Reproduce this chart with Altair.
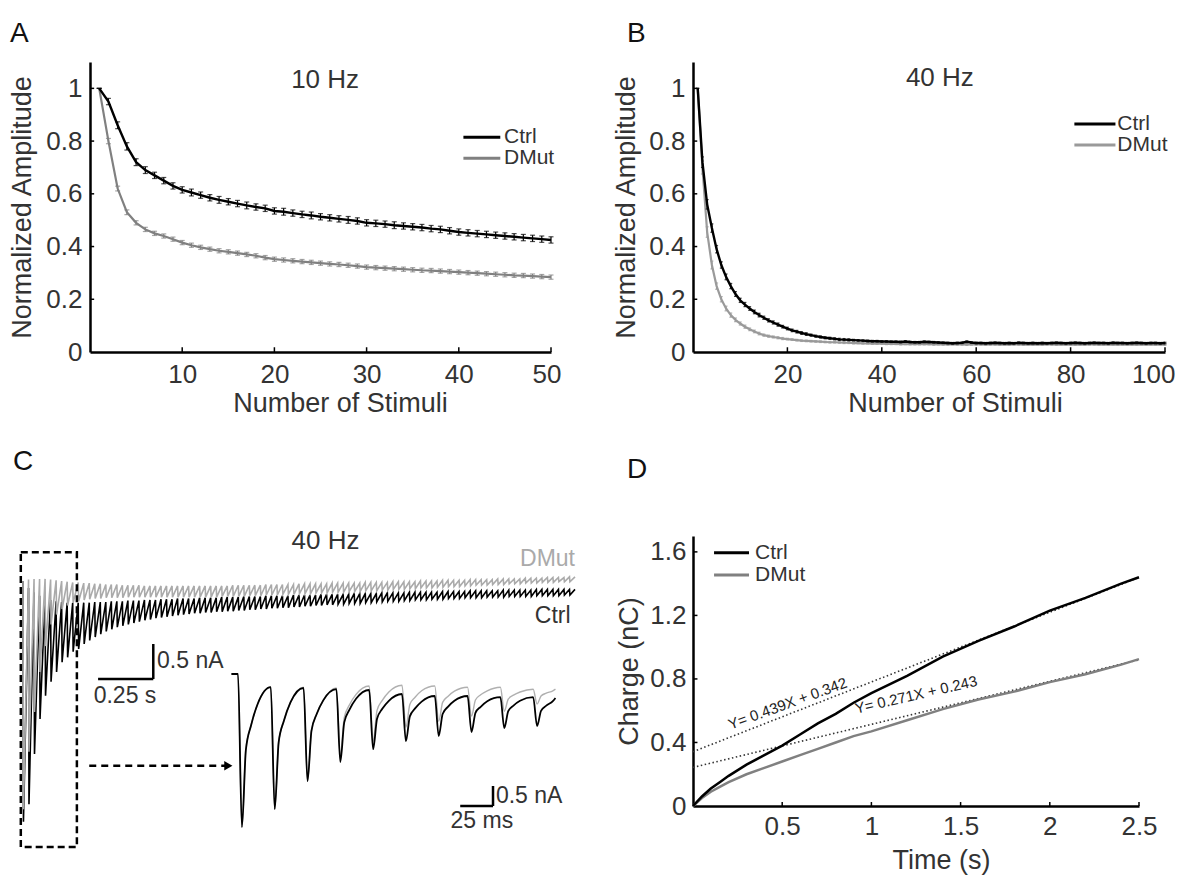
import altair as alt
import pandas as pd

FONT = "Liberation Sans"
BLACK = "#000000"
GRAY_A = "#808080"
GRAY_B = "#9a9a9a"
GRAY_C = "#aaaaaa"
TXT = "#333333"

# ---------------- Panel A (10 Hz) ----------------
a_stim = list(range(1, 51))
a_ctrl = [1.00, 0.95, 0.86, 0.78, 0.72, 0.69, 0.67, 0.65, 0.63, 0.615,
          0.605, 0.595, 0.585, 0.577, 0.570, 0.563, 0.556, 0.550, 0.545, 0.535,
          0.532, 0.527, 0.522, 0.518, 0.513, 0.509, 0.505, 0.501, 0.497, 0.490,
          0.488, 0.485, 0.481, 0.478, 0.475, 0.472, 0.468, 0.465, 0.460, 0.455,
          0.452, 0.449, 0.446, 0.443, 0.440, 0.437, 0.434, 0.431, 0.428, 0.425]
a_ctrl_sem = [0.000, 0.012, 0.013, 0.014, 0.013, 0.013, 0.012, 0.012, 0.012, 0.012,
              0.013, 0.012, 0.012, 0.013, 0.012, 0.012, 0.013, 0.012, 0.012, 0.012,
              0.013, 0.012, 0.012, 0.013, 0.012, 0.012, 0.012, 0.013, 0.012, 0.012,
              0.012, 0.012, 0.013, 0.012, 0.012, 0.012, 0.012, 0.012, 0.012, 0.012,
              0.012, 0.012, 0.012, 0.012, 0.012, 0.012, 0.012, 0.012, 0.012, 0.012]
a_mut = [1.00, 0.80, 0.62, 0.53, 0.49, 0.465, 0.450, 0.440, 0.428, 0.415,
         0.405, 0.397, 0.390, 0.384, 0.380, 0.375, 0.370, 0.365, 0.358, 0.352,
         0.349, 0.346, 0.343, 0.340, 0.337, 0.334, 0.332, 0.329, 0.326, 0.322,
         0.320, 0.318, 0.316, 0.314, 0.312, 0.310, 0.309, 0.307, 0.305, 0.303,
         0.301, 0.299, 0.297, 0.295, 0.293, 0.291, 0.290, 0.288, 0.286, 0.284]
a_mut_sem = [0.000, 0.010, 0.009, 0.009, 0.008, 0.008, 0.008, 0.008, 0.008, 0.008,
             0.008, 0.008, 0.008, 0.008, 0.008, 0.008, 0.008, 0.008, 0.008, 0.008,
             0.008, 0.008, 0.008, 0.008, 0.008, 0.008, 0.008, 0.008, 0.008, 0.008,
             0.008, 0.008, 0.008, 0.008, 0.008, 0.008, 0.008, 0.008, 0.008, 0.008,
             0.008, 0.008, 0.008, 0.008, 0.008, 0.008, 0.008, 0.008, 0.008, 0.008]

# ---------------- Panel B (40 Hz) ----------------
b_stim = list(range(1, 101))
b_ctrl = [1.00, 0.72, 0.56, 0.47, 0.39, 0.33, 0.285, 0.25, 0.22, 0.196,
          0.180, 0.165, 0.152, 0.140, 0.130, 0.120, 0.112, 0.104, 0.096, 0.089,
          0.082, 0.077, 0.072, 0.068, 0.064, 0.060, 0.057, 0.054, 0.052, 0.050,
          0.048, 0.047, 0.046, 0.045, 0.044, 0.043, 0.042, 0.041, 0.041, 0.040,
          0.040, 0.039, 0.039, 0.038, 0.040, 0.038, 0.037, 0.037, 0.039, 0.038,
          0.037, 0.036, 0.035, 0.034, 0.033, 0.034, 0.035, 0.039, 0.036, 0.034,
          0.034, 0.033, 0.034, 0.035, 0.034, 0.033, 0.034, 0.033, 0.035, 0.034,
          0.033, 0.034, 0.033, 0.034, 0.033, 0.034, 0.035, 0.034, 0.033, 0.034,
          0.035, 0.034, 0.033, 0.034, 0.035, 0.034, 0.034, 0.033, 0.035, 0.034,
          0.034, 0.033, 0.034, 0.035, 0.034, 0.033, 0.034, 0.034, 0.033, 0.034]
b_ctrl_sem = [0.000, 0.020, 0.018, 0.016, 0.014, 0.012, 0.011, 0.010, 0.009, 0.008,
              0.008, 0.007, 0.007, 0.007, 0.006, 0.006, 0.006, 0.006, 0.005, 0.005,
              0.005, 0.005, 0.005, 0.005, 0.004, 0.004, 0.004, 0.004, 0.004, 0.004,
              0.004, 0.004, 0.004, 0.003, 0.003, 0.003, 0.003, 0.003, 0.003, 0.003,
              0.003, 0.003, 0.003, 0.003, 0.003, 0.003, 0.003, 0.003, 0.003, 0.003,
              0.003, 0.003, 0.003, 0.003, 0.003, 0.003, 0.003, 0.003, 0.003, 0.003,
              0.003, 0.003, 0.003, 0.003, 0.003, 0.003, 0.003, 0.003, 0.003, 0.003,
              0.003, 0.003, 0.003, 0.003, 0.003, 0.003, 0.003, 0.003, 0.003, 0.003,
              0.003, 0.003, 0.003, 0.003, 0.003, 0.003, 0.003, 0.003, 0.003, 0.003,
              0.003, 0.003, 0.003, 0.003, 0.003, 0.003, 0.003, 0.003, 0.003, 0.003]
b_mut = [1.00, 0.70, 0.455, 0.33, 0.25, 0.20, 0.165, 0.140, 0.122, 0.108,
         0.096, 0.086, 0.078, 0.070, 0.064, 0.060, 0.057, 0.054, 0.051, 0.049,
         0.047, 0.045, 0.043, 0.042, 0.041, 0.040, 0.039, 0.038, 0.037, 0.037,
         0.036, 0.035, 0.035, 0.034, 0.034, 0.033, 0.033, 0.032, 0.032, 0.032,
         0.031, 0.031, 0.031, 0.030, 0.031, 0.030, 0.030, 0.030, 0.030, 0.030,
         0.029, 0.030, 0.029, 0.029, 0.030, 0.029, 0.029, 0.028, 0.029, 0.029,
         0.029, 0.028, 0.029, 0.029, 0.028, 0.029, 0.028, 0.029, 0.029, 0.028,
         0.029, 0.028, 0.029, 0.028, 0.029, 0.029, 0.028, 0.029, 0.028, 0.029,
         0.028, 0.029, 0.028, 0.029, 0.029, 0.028, 0.029, 0.028, 0.029, 0.028,
         0.029, 0.028, 0.029, 0.028, 0.029, 0.028, 0.029, 0.028, 0.029, 0.028]
b_mut_sem = [0.000, 0.025, 0.020, 0.015, 0.012, 0.010, 0.009, 0.008, 0.007, 0.006,
             0.006, 0.005, 0.005, 0.005, 0.004, 0.004, 0.004, 0.004, 0.004, 0.003,
             0.003, 0.003, 0.003, 0.003, 0.003, 0.003, 0.003, 0.003, 0.003, 0.003,
             0.003, 0.003, 0.003, 0.003, 0.003, 0.003, 0.003, 0.003, 0.003, 0.003,
             0.003, 0.003, 0.003, 0.003, 0.003, 0.003, 0.003, 0.003, 0.003, 0.003,
             0.003, 0.003, 0.003, 0.003, 0.003, 0.003, 0.003, 0.003, 0.003, 0.003,
             0.003, 0.003, 0.003, 0.003, 0.003, 0.003, 0.003, 0.003, 0.003, 0.003,
             0.003, 0.003, 0.003, 0.003, 0.003, 0.003, 0.003, 0.003, 0.003, 0.003,
             0.003, 0.003, 0.003, 0.003, 0.003, 0.003, 0.003, 0.003, 0.003, 0.003,
             0.003, 0.003, 0.003, 0.003, 0.003, 0.003, 0.003, 0.003, 0.003, 0.003]

# ---------------- Panel C (40 Hz traces, nA) ----------------
c_stim_times = [round(0.025 * i, 3) for i in range(100)]   # 40 Hz protocol, s
c_ctrl_base = [0.00, -0.10, -0.16, -0.21, -0.25, -0.27, -0.29, -0.30, -0.31, -0.31,
               -0.31, -0.31, -0.31, -0.30, -0.30, -0.30, -0.29, -0.29, -0.29, -0.28,
               -0.28, -0.28, -0.27, -0.27, -0.27, -0.26, -0.26, -0.26, -0.25, -0.25,
               -0.25, -0.25, -0.24, -0.24, -0.24, -0.24, -0.23, -0.23, -0.23, -0.23,
               -0.22, -0.22, -0.22, -0.22, -0.21, -0.21, -0.21, -0.21, -0.21, -0.20,
               -0.20, -0.20, -0.20, -0.20, -0.19, -0.19, -0.19, -0.19, -0.19, -0.19,
               -0.18, -0.18, -0.18, -0.18, -0.18, -0.17, -0.17, -0.17, -0.17, -0.17,
               -0.16, -0.16, -0.16, -0.16, -0.16, -0.16, -0.15, -0.15, -0.15, -0.15,
               -0.15, -0.14, -0.14, -0.14, -0.14, -0.14, -0.14, -0.13, -0.13, -0.13,
               -0.13, -0.13, -0.13, -0.12, -0.12, -0.12, -0.12, -0.12, -0.12, -0.12]
c_ctrl_peak = [-3.44, -3.19, -2.47, -1.97, -1.64, -1.44, -1.30, -1.16, -1.09, -1.01,
               -0.97, -0.90, -0.85, -0.80, -0.76, -0.72, -0.69, -0.66, -0.64, -0.62,
               -0.60, -0.58, -0.56, -0.55, -0.53, -0.52, -0.51, -0.50, -0.49, -0.48,
               -0.47, -0.46, -0.46, -0.45, -0.45, -0.44, -0.44, -0.43, -0.43, -0.42,
               -0.42, -0.41, -0.41, -0.40, -0.40, -0.39, -0.39, -0.38, -0.38, -0.37,
               -0.37, -0.36, -0.36, -0.35, -0.35, -0.34, -0.34, -0.33, -0.33, -0.32,
               -0.32, -0.32, -0.31, -0.31, -0.30, -0.30, -0.29, -0.29, -0.29, -0.28,
               -0.28, -0.27, -0.27, -0.27, -0.26, -0.26, -0.26, -0.25, -0.25, -0.25,
               -0.24, -0.24, -0.24, -0.24, -0.23, -0.23, -0.23, -0.23, -0.22, -0.22,
               -0.22, -0.22, -0.22, -0.21, -0.21, -0.21, -0.21, -0.21, -0.20, -0.20]
c_mut_base = [0.00, 0.02, 0.03, 0.03, 0.03, 0.02, 0.01, 0.00, -0.01, -0.02,
              -0.02, -0.03, -0.03, -0.04, -0.04, -0.05, -0.05, -0.05, -0.06, -0.06,
              -0.06, -0.06, -0.07, -0.07, -0.07, -0.07, -0.07, -0.07, -0.07, -0.07,
              -0.07, -0.07, -0.07, -0.07, -0.07, -0.07, -0.07, -0.07, -0.06, -0.06,
              -0.06, -0.06, -0.06, -0.06, -0.05, -0.05, -0.05, -0.05, -0.05, -0.05,
              -0.04, -0.04, -0.04, -0.04, -0.04, -0.04, -0.03, -0.03, -0.03, -0.03,
              -0.03, -0.03, -0.02, -0.02, -0.02, -0.02, -0.02, -0.01, -0.01, -0.01,
              -0.01, -0.01, 0.00, 0.00, 0.00, 0.00, 0.01, 0.01, 0.01, 0.01,
              0.01, 0.02, 0.02, 0.02, 0.02, 0.02, 0.03, 0.03, 0.03, 0.03,
              0.03, 0.04, 0.04, 0.04, 0.04, 0.05, 0.05, 0.05, 0.05, 0.06]
c_mut_peak = [-3.26, -2.44, -1.87, -1.30, -0.93, -0.62, -0.48, -0.40, -0.35, -0.31,
              -0.29, -0.27, -0.26, -0.25, -0.25, -0.24, -0.24, -0.24, -0.24, -0.23,
              -0.23, -0.23, -0.23, -0.23, -0.23, -0.23, -0.23, -0.23, -0.23, -0.23,
              -0.23, -0.23, -0.23, -0.23, -0.23, -0.23, -0.22, -0.22, -0.22, -0.22,
              -0.22, -0.21, -0.21, -0.21, -0.20, -0.20, -0.20, -0.19, -0.19, -0.19,
              -0.18, -0.18, -0.18, -0.17, -0.17, -0.17, -0.16, -0.16, -0.16, -0.15,
              -0.15, -0.15, -0.14, -0.14, -0.14, -0.13, -0.13, -0.12, -0.12, -0.12,
              -0.11, -0.11, -0.10, -0.10, -0.10, -0.09, -0.09, -0.08, -0.08, -0.08,
              -0.07, -0.07, -0.06, -0.06, -0.06, -0.05, -0.05, -0.05, -0.04, -0.04,
              -0.04, -0.03, -0.03, -0.03, -0.02, -0.02, -0.02, -0.01, -0.01, -0.01]
c_trace_end = 2.5

# inset: first 10 responses (ms, nA); samples at onset, +3, +6, +10, +15 ms
inset_onsets = [0, 25, 50, 75, 100, 125, 150, 175, 200, 225]
inset_end = 242
inset_ctrl_trough = [-3.83, -3.38, -2.68, -2.20, -1.88, -1.68, -1.55, -1.45, -1.35, -1.30]
inset_ctrl_k6 = [-1.90, -1.71, -1.42, -1.21, -1.12, -1.06, -1.00, -0.97, -0.93, -0.92]
inset_ctrl_k10 = [-1.28, -1.17, -1.00, -0.89, -0.87, -0.86, -0.82, -0.82, -0.79, -0.79]
inset_ctrl_k15 = [-0.75, -0.71, -0.66, -0.62, -0.67, -0.69, -0.67, -0.68, -0.67, -0.68]
inset_ctrl_top = [-0.33, -0.35, -0.38, -0.40, -0.50, -0.55, -0.55, -0.58, -0.58, -0.60]
inset_mut_trough = [-3.83, -3.38, -2.68, -2.05, -1.68, -1.33, -1.18, -1.05, -0.93, -0.75]
inset_mut_k6 = [-1.90, -1.71, -1.42, -1.09, -0.91, -0.76, -0.71, -0.65, -0.63, -0.55]
inset_mut_k10 = [-1.28, -1.17, -1.00, -0.77, -0.66, -0.58, -0.56, -0.52, -0.53, -0.48]
inset_mut_k15 = [-0.75, -0.71, -0.66, -0.51, -0.45, -0.42, -0.43, -0.42, -0.45, -0.42]
inset_mut_top = [-0.33, -0.33, -0.35, -0.30, -0.28, -0.30, -0.33, -0.33, -0.38, -0.38]

# ---------------- Panel D (charge, nC) ----------------
d_time = [0, 0.05, 0.1, 0.15, 0.2, 0.3, 0.4, 0.5, 0.6, 0.7, 0.8, 0.9, 1.0,
          1.2, 1.4, 1.6, 1.8, 2.0, 2.2, 2.4, 2.5]
d_ctrl = [0, 0.06, 0.11, 0.15, 0.19, 0.26, 0.32, 0.38, 0.45, 0.52, 0.58, 0.65, 0.71,
          0.82, 0.94, 1.04, 1.13, 1.23, 1.31, 1.40, 1.44]
d_mut = [0, 0.05, 0.09, 0.12, 0.15, 0.20, 0.24, 0.28, 0.32, 0.36, 0.40, 0.44, 0.47,
         0.54, 0.61, 0.67, 0.72, 0.78, 0.83, 0.89, 0.925]
d_fit_ctrl = (0.439, 0.342)
d_fit_mut = (0.271, 0.243)


def panel_title(letter, offset, dx):
    return alt.TitleParams(letter, anchor="start", frame="group", fontSize=28,
                           fontWeight="normal", font=FONT, color="#111111",
                           offset=offset, dx=dx)


def amp_panel(stim, ctrl, ctrl_sem, mut, mut_sem, xdom, xticks, yticks, w, h,
              mut_color, freq, freq_xy, leg_x, leg_y, letter, t_off, t_dx,
              xtitle_x, ytitle_pad, cap):
    xs = alt.Scale(domain=xdom, nice=False, zero=False)
    ys = alt.Scale(domain=[0, 1.1], nice=False, zero=False)
    xax = alt.Axis(values=xticks, title="Number of Stimuli", titleX=xtitle_x,
                   labelPadding=9, titlePadding=3, labelFlush=True, labelFlushOffset=10)
    yax = alt.Axis(values=yticks, title="Normalized Amplitude", format="~g",
                   labelPadding=8, titlePadding=ytitle_pad, labelFlush=False)

    def X(f):
        return alt.X(f, type="quantitative", scale=xs, axis=xax)

    def Y(f):
        return alt.Y(f, type="quantitative", scale=ys, axis=yax)

    layers = []
    for vals, sems, color, width in [(mut, mut_sem, mut_color, 2.2),
                                     (ctrl, ctrl_sem, BLACK, 2.4)]:
        df = pd.DataFrame({"stim": stim, "v": vals,
                           "lo": [v - s for v, s in zip(vals, sems)],
                           "hi": [v + s for v, s in zip(vals, sems)]})
        base = alt.Chart(df)
        layers.append(base.mark_rule(color=color, strokeWidth=1.2)
                      .encode(x=X("stim"), y=Y("lo"), y2="hi"))
        layers.append(base.mark_tick(color=color, orient="horizontal", size=cap,
                                     thickness=1.2).encode(x=X("stim"), y=Y("lo")))
        layers.append(base.mark_tick(color=color, orient="horizontal", size=cap,
                                     thickness=1.2).encode(x=X("stim"), y=Y("hi")))
        layers.append(base.mark_line(color=color, strokeWidth=width)
                      .encode(x=X("stim"), y=Y("v")))
    # inward ticks
    xt = pd.DataFrame({"x": xticks, "y0": [0] * len(xticks), "y1": [0.018] * len(xticks)})
    layers.append(alt.Chart(xt).mark_rule(color=BLACK, strokeWidth=1.5)
                  .encode(x=X("x"), y=Y("y0"), y2="y1"))
    yt_vals = [v for v in yticks if v > 0]
    ytd = pd.DataFrame({"y": yt_vals, "x0": [xdom[0]] * len(yt_vals),
                        "x1": [xdom[0] + (xdom[1] - xdom[0]) * 0.009] * len(yt_vals)})
    layers.append(alt.Chart(ytd).mark_rule(color=BLACK, strokeWidth=1.5)
                  .encode(x=X("x0"), x2="x1", y=Y("y")))
    # frequency label
    fd = pd.DataFrame({"x": [freq_xy[0]], "y": [freq_xy[1]], "t": [freq]})
    layers.append(alt.Chart(fd).mark_text(fontSize=26, font=FONT, color=TXT)
                  .encode(x=X("x"), y=Y("y"), text="t"))
    # legend
    ld = pd.DataFrame({"x0": [leg_x[0]] * 2, "x1": [leg_x[1]] * 2, "y": leg_y,
                       "tx": [leg_x[2]] * 2, "lab": ["Ctrl", "DMut"],
                       "c": [BLACK, mut_color]})
    layers.append(alt.Chart(ld).mark_rule(strokeWidth=3)
                  .encode(x=X("x0"), x2="x1", y=Y("y"),
                          color=alt.Color("c:N", scale=None)))
    layers.append(alt.Chart(ld).mark_text(fontSize=21, font=FONT, color=TXT,
                                          align="left", baseline="middle")
                  .encode(x=X("tx"), y=Y("y"), text="lab"))
    return alt.layer(*layers).properties(width=w, height=h,
                                         title=panel_title(letter, t_off, t_dx))


panel_a = amp_panel(a_stim, a_ctrl, a_ctrl_sem, a_mut, a_mut_sem, [0, 50],
                    [10, 20, 30, 40, 50], [0, 0.2, 0.4, 0.6, 0.8, 1.0], 461, 290,
                    GRAY_A, "10 Hz", (25.5, 1.03), (40.5, 44.5, 44.9), [0.815, 0.735],
                    "A", 14, -80, 250, 9, 5)
panel_b = amp_panel(b_stim, b_ctrl, b_ctrl_sem, b_mut, b_mut_sem, [0, 100],
                    [20, 40, 60, 80, 100], [0, 0.2, 0.4, 0.6, 0.8, 1.0], 472, 290,
                    GRAY_B, "40 Hz", (52.3, 1.04), (80.8, 89.5, 89.9), [0.865, 0.785],
                    "B", 14, -66, 262, 8, 3)

# ---------------- Panel C build ----------------
MAIN_T = [0.3034, 2.3913]
MAIN_I = [-3.214, 0.643]
INS_T = [-112.8, 238.6]
INS_I = [-3.30, 3.45]


def trace_df(base, peak):
    rows = []
    k = 0
    for t, b, p in zip(c_stim_times, base, peak):
        rows.append({"o": k, "t": t, "i": b})
        rows.append({"o": k + 1, "t": t + 0.002, "i": p})
        k += 2
    rows.append({"o": k, "t": c_trace_end, "i": base[-1]})
    return pd.DataFrame(rows)


def inset_df(trough, k6, k10, k15, top):
    rows = [{"o": 0, "t": -5, "i": 0.0}]
    prev = 0.0
    k = 1
    for j, t0 in enumerate(inset_onsets):
        for dt, v in [(0, prev), (3, trough[j]), (6, k6[j]), (10, k10[j]), (15, k15[j])]:
            rows.append({"o": k, "t": t0 + dt, "i": v})
            k += 1
        prev = top[j]
    rows.append({"o": k, "t": inset_end, "i": top[-1]})
    return pd.DataFrame(rows)


def MX(f):
    return alt.X(f, type="quantitative", scale=alt.Scale(domain=MAIN_T, nice=False, zero=False), axis=None)


def MY(f):
    return alt.Y(f, type="quantitative", scale=alt.Scale(domain=MAIN_I, nice=False, zero=False), axis=None)


def IX(f):
    return alt.X(f, type="quantitative", scale=alt.Scale(domain=INS_T, nice=False, zero=False), axis=None)


def IY(f):
    return alt.Y(f, type="quantitative", scale=alt.Scale(domain=INS_I, nice=False, zero=False), axis=None)


c_layers = []
c_layers.append(alt.Chart(trace_df(c_ctrl_base, c_ctrl_peak))
                .mark_line(color=BLACK, strokeWidth=1.6)
                .encode(x=MX("t"), y=MY("i"), order="o"))
c_layers.append(alt.Chart(trace_df(c_mut_base, c_mut_peak))
                .mark_line(color=GRAY_C, strokeWidth=1.6)
                .encode(x=MX("t"), y=MY("i"), order="o"))
# dashed selection box
box = pd.DataFrame({"t0": [-0.01], "t1": [0.244], "i0": [0.41], "i1": [-3.80]})
c_layers.append(alt.Chart(box).mark_rect(fill=None, fillOpacity=0, stroke=BLACK,
                                         strokeWidth=2.5, strokeDash=[7, 4])
                .encode(x=MX("t0"), x2="t1", y=MY("i0"), y2="i1"))
# arrow
arr = pd.DataFrame({"t0": [0.30], "t1": [0.93], "i": [-2.64]})
c_layers.append(alt.Chart(arr).mark_rule(color=BLACK, strokeWidth=2.5, strokeDash=[7, 5])
                .encode(x=MX("t0"), x2="t1", y=MY("i")))
c_layers.append(alt.Chart(arr).mark_point(shape="triangle-right", filled=True, size=90,
                                          color=BLACK, opacity=1)
                .encode(x=MX("t1"), y=MY("i")))
# main scale bar 0.25 s / 0.5 nA
sb = pd.DataFrame({"t0": [0.34], "t1": [0.59], "i0": [-1.40], "i1": [-0.90]})
c_layers.append(alt.Chart(sb).mark_rule(color=BLACK, strokeWidth=2.5)
                .encode(x=MX("t0"), x2="t1", y=MY("i0")))
c_layers.append(alt.Chart(sb).mark_rule(color=BLACK, strokeWidth=2.5)
                .encode(x=MX("t1"), y=MY("i0"), y2="i1"))
ctext = pd.DataFrame({
    "t": [1.37, 2.5, 2.48, 0.607, 0.32],
    "i": [0.57, 0.31, -0.50, -1.14, -1.64],
    "lab": ["40 Hz", "DMut", "Ctrl", "0.5 nA", "0.25 s"],
    "c": [TXT, GRAY_C, TXT, TXT, TXT],
    "al": ["center", "right", "right", "left", "left"],
    "fs": [26, 23, 23, 23, 23],
})
for _, r in ctext.iterrows():
    c_layers.append(alt.Chart(pd.DataFrame([r])).mark_text(
        font=FONT, fontSize=int(r["fs"]), color=r["c"], align=r["al"], baseline="middle")
        .encode(x=MX("t"), y=MY("i"), text="lab"))
# inset traces
c_layers.append(alt.Chart(inset_df(inset_mut_trough, inset_mut_k6, inset_mut_k10,
                                   inset_mut_k15, inset_mut_top))
                .mark_line(color="#b0b0b0", strokeWidth=1.4, interpolate="monotone")
                .encode(x=IX("t"), y=IY("i"), order="o"))
c_layers.append(alt.Chart(inset_df(inset_ctrl_trough, inset_ctrl_k6, inset_ctrl_k10,
                                   inset_ctrl_k15, inset_ctrl_top))
                .mark_line(color=BLACK, strokeWidth=1.8, interpolate="monotone")
                .encode(x=IX("t"), y=IY("i"), order="o"))
isb = pd.DataFrame({"t0": [169.4], "t1": [194.4], "i0": [-3.30], "i1": [-2.80]})
c_layers.append(alt.Chart(isb).mark_rule(color=BLACK, strokeWidth=2.5)
                .encode(x=IX("t0"), x2="t1", y=IY("i0")))
c_layers.append(alt.Chart(isb).mark_rule(color=BLACK, strokeWidth=2.5)
                .encode(x=IX("t1"), y=IY("i0"), y2="i1"))
itext = pd.DataFrame({"t": [196.6, 162.0], "i": [-3.05, -3.68], "lab": ["0.5 nA", "25 ms"]})
c_layers.append(alt.Chart(itext).mark_text(font=FONT, fontSize=23, color=TXT, align="left",
                                           baseline="middle")
                .encode(x=IX("t"), y=IY("i"), text="lab"))

panel_c = alt.layer(*c_layers).resolve_scale(x="independent", y="independent").properties(
    width=461, height=270, title=panel_title("C", 52, -77))

# ---------------- Panel D build ----------------
dxs = alt.Scale(domain=[0, 2.5], nice=False, zero=False)
dys = alt.Scale(domain=[0, 1.7], nice=False, zero=False)
dxax = alt.Axis(values=[0.5, 1, 1.5, 2, 2.5], format="~g", title="Time (s)", titleX=248,
                labelPadding=7, titlePadding=8, labelFlush=False)
dyax = alt.Axis(values=[0, 0.4, 0.8, 1.2, 1.6], format="~g", title="Charge (nC)",
                labelPadding=7, titlePadding=6, labelFlush=False)


def DX(f):
    return alt.X(f, type="quantitative", scale=dxs, axis=dxax)


def DY(f):
    return alt.Y(f, type="quantitative", scale=dys, axis=dyax)


d_layers = []
fit_rows = []
for name, (m, b) in [("Ctrl", d_fit_ctrl), ("DMut", d_fit_mut)]:
    for x in [0, 2.5]:
        fit_rows.append({"s": name, "x": x, "y": m * x + b})
fit_df = pd.DataFrame(fit_rows)
d_layers.append(alt.Chart(fit_df).mark_line(color="#333333", strokeWidth=1.6, strokeDash=[1.5, 2.5])
                .encode(x=DX("x"), y=DY("y"), detail="s"))
dm = pd.DataFrame({"t": d_time, "q": d_mut})
dc = pd.DataFrame({"t": d_time, "q": d_ctrl})
d_layers.append(alt.Chart(dm).mark_line(color=GRAY_A, strokeWidth=2.5).encode(x=DX("t"), y=DY("q")))
d_layers.append(alt.Chart(dc).mark_line(color=BLACK, strokeWidth=2.5).encode(x=DX("t"), y=DY("q")))
eq = pd.DataFrame({"x": [0.53, 1.25], "y": [0.645, 0.70],
                   "lab": ["Y= 0.439X + 0.342", "Y= 0.271X + 0.243"], "a": [340, 347]})
for _, r in eq.iterrows():
    d_layers.append(alt.Chart(pd.DataFrame([r])).mark_text(
        font=FONT, fontSize=15, color="#222222", angle=int(r["a"]), baseline="middle")
        .encode(x=DX("x"), y=DY("y"), text="lab"))
dxt = pd.DataFrame({"x": [0.5, 1, 1.5, 2, 2.5], "y0": [0] * 5, "y1": [0.025] * 5})
d_layers.append(alt.Chart(dxt).mark_rule(color=BLACK, strokeWidth=1.5)
                .encode(x=DX("x"), y=DY("y0"), y2="y1"))
dyt = pd.DataFrame({"y": [0.4, 0.8, 1.2, 1.6], "x0": [0] * 4, "x1": [0.025] * 4})
d_layers.append(alt.Chart(dyt).mark_rule(color=BLACK, strokeWidth=1.5)
                .encode(x=DX("x0"), x2="x1", y=DY("y")))
dleg = pd.DataFrame({"x0": [0.118] * 2, "x1": [0.314] * 2, "y": [1.595, 1.455],
                     "tx": [0.348] * 2, "lab": ["Ctrl", "DMut"], "c": [BLACK, GRAY_A]})
d_layers.append(alt.Chart(dleg).mark_rule(strokeWidth=3)
                .encode(x=DX("x0"), x2="x1", y=DY("y"), color=alt.Color("c:N", scale=None)))
d_layers.append(alt.Chart(dleg).mark_text(fontSize=21, font=FONT, color=TXT, align="left",
                                          baseline="middle")
                .encode(x=DX("tx"), y=DY("y"), text="lab"))
panel_d = alt.layer(*d_layers).properties(width=446, height=270,
                                          title=panel_title("D", 52, -66))

chart = alt.concat(panel_a, panel_b, panel_c, panel_d, columns=2, align="each",
                   spacing={"row": 32, "column": 33}).properties(
    padding={"left": 0, "top": 12, "right": 0, "bottom": 5}
).configure(background="white").configure_view(stroke=None).configure_axis(
    domainColor=BLACK, domainWidth=2.5, ticks=False, grid=False,
    labelFont=FONT, titleFont=FONT, labelFontSize=26, titleFontSize=27,
    labelColor=TXT, titleColor=TXT, titleFontWeight="normal",
)

chart.save("out.html", embed_options={"renderer": "svg", "actions": False})
